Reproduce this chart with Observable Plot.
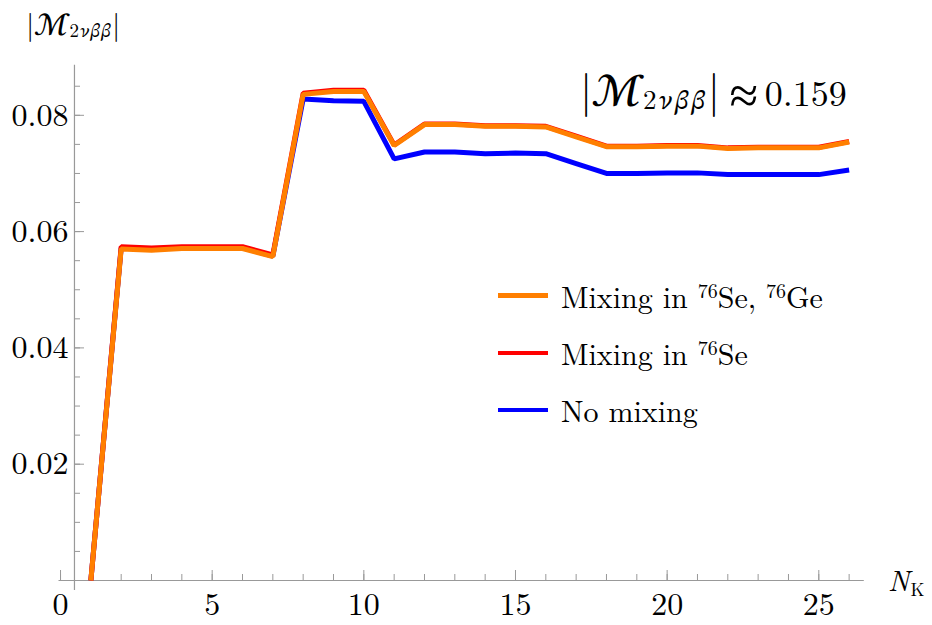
<!DOCTYPE html>
<html><head><meta charset="utf-8">
<script src="https://cdn.jsdelivr.net/npm/d3@7"></script>
<script src="https://cdn.jsdelivr.net/npm/@observablehq/plot@0.6"></script>
<style>
html,body{margin:0;padding:0;background:#fff;}
#wrap{position:relative;width:932px;height:625px;color:#000;}
#wrap *, #wrap svg text{font-family:"Latin Modern Roman" !important;}
#wrap .cal{font-family:"STIX Two Text" !important;font-style:normal;}
#wrap .gr{font-family:"STIX Two Text" !important;font-style:italic;}
.ov{position:absolute;white-space:nowrap;line-height:1;}
.it{font-style:italic;}
.sw{display:inline-block;width:50px;height:4.5px;vertical-align:middle;}
</style>
</head><body><div id="wrap"></div>
<script>
// Data
const nK = [1,2,3,4,5,6,7,8,9,10,11,12,13,14,15,16,17,18,19,20,21,22,23,24,25,26];
const mixSeGe = [0,0.0570,0.0568,0.0571,0.0571,0.0571,0.0557,0.0836,0.0841,0.0841,0.0748,0.0784,0.0784,0.0781,0.0781,0.0780,0.0763,0.0746,0.0746,0.0747,0.0747,0.0743,0.0744,0.0744,0.0744,0.0754];
const mixSe   = [0,0.0574,0.0572,0.0574,0.0574,0.0574,0.0560,0.0838,0.0843,0.0843,0.0749,0.0785,0.0785,0.0782,0.0782,0.0781,0.0764,0.0747,0.0747,0.0748,0.0748,0.0744,0.0745,0.0745,0.0745,0.0755];
const noMix   = [0,0.0572,0.0570,0.0572,0.0572,0.0572,0.0558,0.0828,0.0825,0.0824,0.0725,0.0737,0.0737,0.0734,0.0735,0.0734,0.0717,0.0700,0.0700,0.0701,0.0701,0.0698,0.0698,0.0698,0.0698,0.0706];
const seriesNames = ["No mixing","Mixing in 76Se","Mixing in 76Se, 76Ge"];
const seriesColors = ["#0000ff","#ff0000","#ff7f00"];
const xMajorTicks = [0,5,10,15,20,25];
const xMinorTicks = d3.range(0,27);
const yMajorTicks = [0.02,0.04,0.06,0.08];
const yMinorTicks = d3.range(1,18).map(i => +(i*0.005).toFixed(3));
const xDomain = [-0.05, 26.5];
const yDomain = [0, 0.0886];
const yAxisAtX = 0.46;
const yAxisBottom = -0.0017;
const annotationValue = "0.159";

const fontStack = '"Latin Modern Roman"';
const axisColor = "#999";
const seriesData = [noMix, mixSe, mixSeGe].map((vals, k) => nK.map((x, i) => ({x, y: vals[i], s: seriesNames[k]})));

const chart = Plot.plot({
  width: 932, height: 625,
  marginLeft: 58.5, marginRight: 68.2, marginTop: 64.8, marginBottom: 45,
  x: {domain: xDomain},
  y: {domain: yDomain},
  style: {fontFamily: fontStack, fontSize: "32px", background: "white", color: "black"},
  marks: [
    Plot.ruleY([0], {stroke: axisColor, strokeWidth: 1.2}),
    Plot.ruleX([yAxisAtX], {y1: yAxisBottom, y2: yDomain[1], stroke: axisColor, strokeWidth: 1.2}),
    Plot.axisX(xMinorTicks, {anchor: "bottom", tickSize: -6, tickFormat: () => "", stroke: axisColor, label: null}),
    Plot.axisX(xMajorTicks, {anchor: "bottom", tickSize: -10, tickPadding: 22, stroke: axisColor, fill: "black", tickFormat: d => String(d), label: null}),
    Plot.axisY(yMinorTicks, {anchor: "left", tickSize: -6, dx: 15.5, tickFormat: () => "", stroke: axisColor, label: null}),
    Plot.axisY(yMajorTicks, {anchor: "left", tickSize: -10, tickPadding: 16, dx: 15.5, stroke: axisColor, fill: "black", tickFormat: d => d.toFixed(2), label: null}),
    ...seriesData.map((d, k) => Plot.line(d, {x: "x", y: "y", stroke: seriesColors[k], strokeWidth: 5, strokeLinejoin: "miter", strokeLinecap: "butt"}))
  ]
});
const wrap = document.getElementById("wrap");
wrap.appendChild(chart);

function add(html, style){ const d = document.createElement("div"); d.className = "ov"; d.innerHTML = html; Object.assign(d.style, style); wrap.appendChild(d); }
// |M_{2νββ}| : sizes in px
const Mexpr = (bar, m, sub, ls, gap) => `<span style="font-size:${bar}px">|</span><span class="cal" style="font-size:${m}px;margin-left:${gap}px">ℳ</span><span style="font-size:${sub}px;letter-spacing:${ls}px;position:relative;top:0.12em;margin-left:1px"><span>2</span><span class="gr">νββ</span></span><span style="font-size:${bar}px">|</span>`;
add(Mexpr(30, 32, 19, 1.2, 1), {left: "26px", top: "8px", fontSize: "28px"});
add(Mexpr(44, 47, 27, 2.8, 1) + `<span style="display:inline-block;transform:scale(1.45);margin-left:14px;margin-right:11px">≈</span><span style="font-size:36px">${annotationValue}</span>`, {left: "580px", top: "66px", fontSize: "36px"});
add(`<span class="it" style="font-size:29px">N</span><span style="font-size:18px;position:relative;top:0.3em;margin-left:1px">K</span>`, {left: "888px", top: "564px"});

// legend
const legendOrder = [2,1,0];
const sup = (t) => `<sup style='font-size:20px;vertical-align:0.5em;line-height:0'>${t}</sup>`;
const legendLabels = ["No mixing", `Mixing in ${sup("76")}Se`, `Mixing in ${sup("76")}Se, ${sup("76")}Ge`];
legendOrder.forEach((k, r) => {
  add(`<span class="sw" style="background:${seriesColors[k]}"></span><span style="margin-left:13px;vertical-align:middle">${legendLabels[k]}</span>`, {left: "498px", top: (275 + r*57.3) + "px", fontSize: "30px"});
});
</script></body></html>
